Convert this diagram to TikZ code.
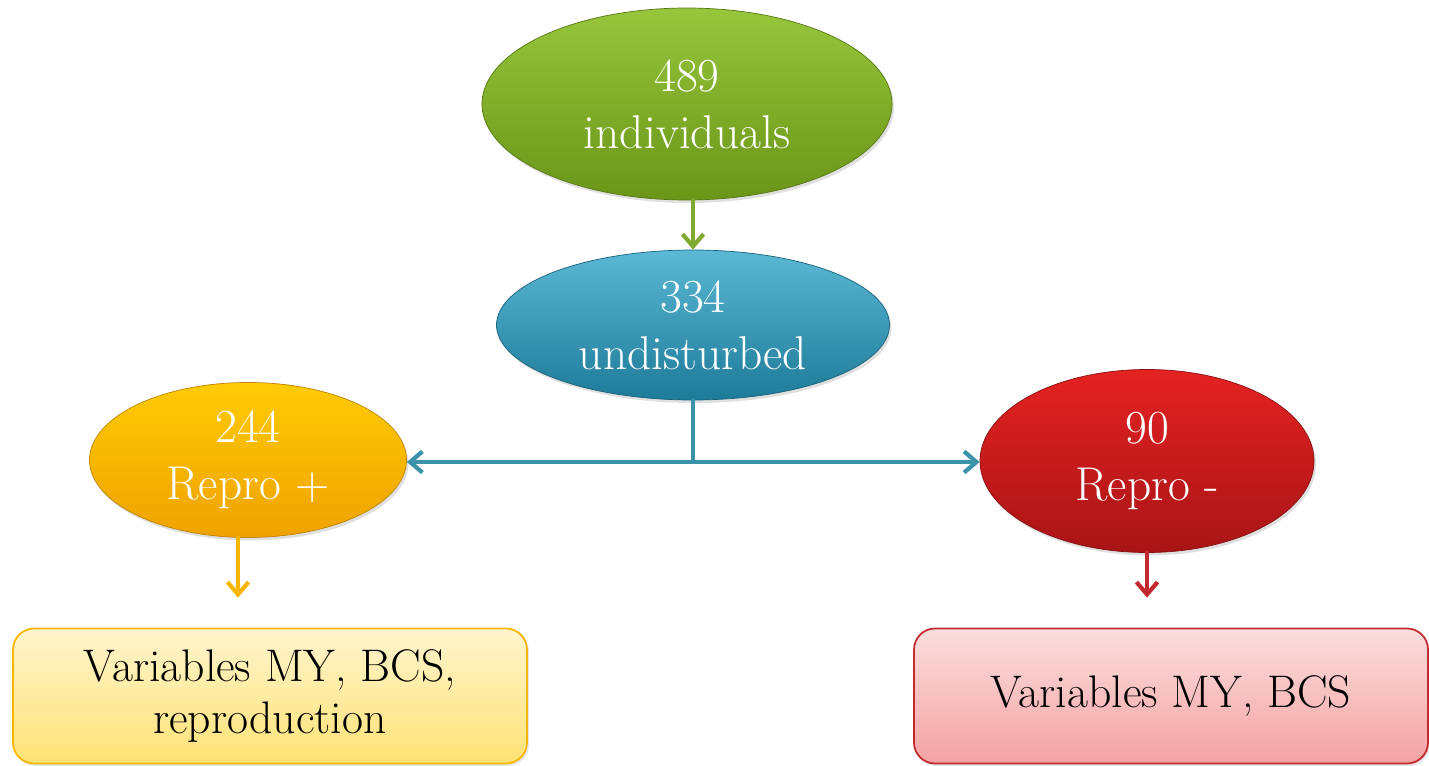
\documentclass[tikz,border=0pt]{standalone}
\usepackage{xcolor}
\definecolor{leaf}{HTML}{8CBF26}
\definecolor{leafdark}{HTML}{6A9518}
\definecolor{sea}{HTML}{33A7CB}
\definecolor{seadark}{HTML}{1D7A98}
\definecolor{sun}{HTML}{FFCB05}
\definecolor{sundark}{HTML}{EFA200}
\definecolor{ruby}{HTML}{E52222}
\definecolor{rubydark}{HTML}{A81416}
\definecolor{seaLine}{HTML}{3A93A8}
\definecolor{leafLine}{HTML}{80AA30}
\definecolor{sunLine}{HTML}{F7B500}
\definecolor{rubyLine}{HTML}{C22A30}
\usepackage{tikz}
\usetikzlibrary{arrows.meta,shapes.geometric,calc,shadows}

\begin{document}
\begin{tikzpicture}[>={Straight Barb[length=7pt,width=12pt]}, line cap=round,
  font=\fontsize{27}{32.5}\selectfont,
  blob/.style={ellipse, inner sep=0pt, align=center, text=white,
    drop shadow={opacity=0.25, shadow xshift=0.04, shadow yshift=-0.06}},
  resultbox/.style={rectangle, rounded corners=0.42cm, inner sep=0pt, align=center,
    minimum width=10.28cm, minimum height=2.7cm, line width=1pt,
    font=\fontsize{26}{29.5}\selectfont,
    drop shadow={opacity=0.2, shadow xshift=0.04, shadow yshift=-0.05}},
  link/.style={->, line width=2.4pt}]

  \useasboundingbox (0,0) rectangle (28.58,-15.3);

  % ellipses
  \node[blob, top color=leaf!90!white, bottom color=leafdark, draw=leafdark!80!black, thin,
    minimum width=8.2cm, minimum height=3.84cm] (total) at (13.74,-2.08) {489\\individuals};
  \node[blob, top color=sea!80!white, bottom color=seadark, draw=seadark!80!black, thin,
    minimum width=7.86cm, minimum height=3.0cm] (undist) at (13.86,-6.5) {334\\undisturbed};
  \node[blob, top color=sun, bottom color=sundark, draw=sundark!80!black, thin,
    minimum width=6.34cm, minimum height=3.1cm] (plus) at (4.96,-9.2) {244\\Repro +};
  \node[blob, top color=ruby, bottom color=rubydark, draw=rubydark!80!black, thin,
    minimum width=6.68cm, minimum height=3.66cm] (minus) at (22.94,-9.22) {90\\Repro -};

  % result boxes
  \node[resultbox, draw=sunLine, top color=sun!20!white, bottom color=sun!55!white]
    (plusbox) at (5.4,-13.92) {Variables MY, BCS,\\reproduction};
  \node[resultbox, draw=rubyLine, top color=ruby!15!white, bottom color=ruby!42!white]
    (minusbox) at (23.42,-13.92) {Variables MY, BCS};

  % connectors
  \draw[link, leafLine] (total.south -| undist.north) -- (undist.north);
  \coordinate (fork) at ($(undist.south |- plus.east)+(0,-0.04)$);
  \draw[line width=2.4pt, seaLine] (undist.south) -- (fork);
  \draw[link, seaLine] (fork) -- (fork -| plus.east);
  \draw[link, seaLine] (fork) -- (fork -| minus.west);
  \coordinate (plusend) at ($([xshift=-0.2cm]plus.south |- plusbox.north)+(0,0.6)$);
  \draw[link, sunLine] ([xshift=-0.2cm]plus.south) -- (plusend);
  \coordinate (minusend) at ($(minus.south |- minusbox.north)+(0,0.6)$);
  \draw[link, rubyLine] (minus.south) -- (minusend);

\end{tikzpicture}
\end{document}
